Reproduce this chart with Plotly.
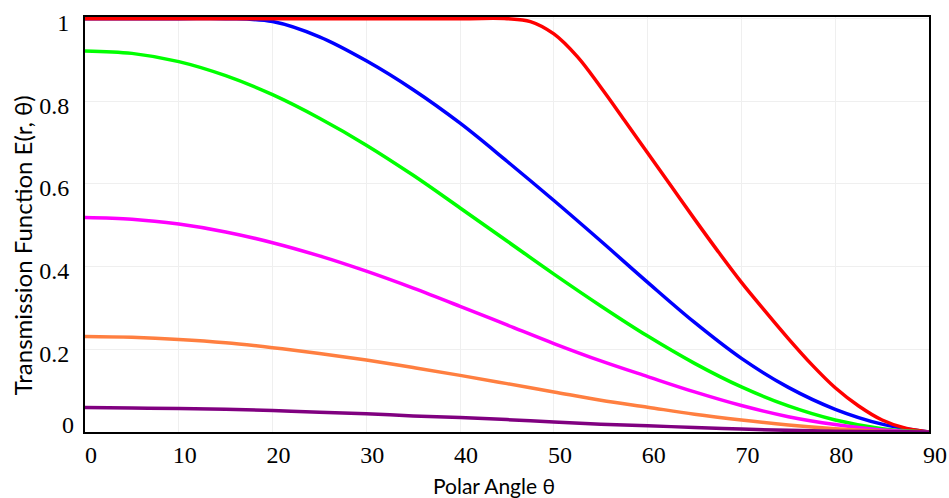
import plotly.graph_objects as go

# ---- data ----
theta = [0, 5, 10, 15, 20, 25, 30, 35, 40, 45, 50, 55, 60, 65, 70, 75, 80, 85, 90]

theta_red = [0, 40, 45, 47.5, 50, 52.5, 55, 57.5, 60, 62.5, 65, 67.5, 70, 72.5, 75, 77.5, 80, 82.5, 85, 87.5, 90]
red = [1.0, 1.0, 1.0, 0.993, 0.963, 0.908, 0.834, 0.755, 0.675, 0.595, 0.515, 0.437, 0.362, 0.293, 0.226, 0.163, 0.107, 0.063, 0.029, 0.009, 0.0]

theta_blue = [0, 10, 15, 20, 25, 30, 35, 40, 45, 50, 55, 60, 65, 70, 75, 80, 85, 90]
blue = [1.0, 1.0, 1.0, 0.993, 0.956, 0.898, 0.828, 0.747, 0.655, 0.56, 0.462, 0.362, 0.265, 0.178, 0.108, 0.055, 0.019, 0.0]

green = [0.922, 0.916, 0.896, 0.862, 0.816, 0.759, 0.694, 0.621, 0.542, 0.462, 0.382, 0.305, 0.232, 0.166, 0.109, 0.063, 0.029, 0.008, 0.0]
magenta = [0.519, 0.515, 0.503, 0.484, 0.458, 0.426, 0.389, 0.348, 0.304, 0.259, 0.214, 0.172, 0.134, 0.097, 0.064, 0.037, 0.018, 0.005, 0.0]
orange = [0.231, 0.229, 0.224, 0.216, 0.204, 0.190, 0.174, 0.156, 0.137, 0.117, 0.097, 0.077, 0.060, 0.043, 0.029, 0.017, 0.008, 0.002, 0.0]
purple = [0.059, 0.058, 0.057, 0.055, 0.052, 0.048, 0.044, 0.039, 0.035, 0.030, 0.024, 0.019, 0.015, 0.011, 0.007, 0.004, 0.002, 0.001, 0.0]

x_tick_vals = [0, 10, 20, 30, 40, 50, 60, 70, 80, 90]
x_tick_text = ["0", "10", "20", "30", "40", "50", "60", "70", "80", "90"]
y_tick_vals = [0, 0.2, 0.4, 0.6, 0.8, 1]
y_tick_text = ["0", "0.2", "0.4", "0.6", "0.8", "1"]

x_title = "Polar Angle θ"
y_title = "Transmission Function E(r, θ)"

series = [
    (theta_blue, blue, "#0000ff"),
    (theta_red, red, "#ff0000"),
    (theta, green, "#00ff00"),
    (theta, magenta, "#ff00ff"),
    (theta, orange, "#ff7f40"),
    (theta, purple, "#800080"),
]

fig = go.Figure()
for xs, ys, col in series:
    fig.add_trace(go.Scatter(x=xs, y=ys, mode="lines",
                             line=dict(color=col, width=3.5, shape="spline", smoothing=1.0),
                             showlegend=False, hoverinfo="skip"))

tick_font = dict(family="Liberation Serif, Times New Roman, serif", size=24, color="black")
title_font = dict(family="Lato, Liberation Sans, sans-serif", color="black")

fig.update_layout(
    template="none",
    width=949, height=498,
    margin=dict(l=85, r=20, t=17, b=66, autoexpand=False),
    paper_bgcolor="white", plot_bgcolor="white",
    showlegend=False,
)
fig.update_xaxes(
    range=[0, 90], tickvals=x_tick_vals, ticktext=x_tick_text,
    tickfont=tick_font, showgrid=True, gridcolor="#efefef", gridwidth=1,
    showline=True, linecolor="black", linewidth=2, mirror=True,
    zeroline=False, ticks="", ticklabelshift=6, ticklabelstandoff=0,
    ticklabeloverflow="allow", automargin=False,
)
fig.update_yaxes(
    range=[0, 1.004], tickvals=y_tick_vals[1:], ticktext=y_tick_text[1:],
    tickfont=tick_font, showgrid=True, gridcolor="#efefef", gridwidth=1,
    showline=True, linecolor="black", linewidth=2, mirror=True,
    zeroline=False, ticks="", ticklabelshift=4, ticklabelstandoff=9,
    ticklabeloverflow="allow", automargin=False,
)

# "0" y tick label sits slightly above the axis in the reference
fig.add_annotation(x=0, xref="paper", y=y_tick_vals[0], yref="y", text=y_tick_text[0],
                   showarrow=False, xanchor="right", yanchor="middle",
                   xshift=-9, yshift=7, font=tick_font)

# axis titles
fig.add_annotation(x=0.485, xref="paper", y=0, yref="paper", text=x_title,
                   showarrow=False, xanchor="center", yanchor="middle",
                   yshift=-53, font=dict(size=21, **title_font))
fig.add_annotation(x=0, xref="paper", y=0.45, yref="paper", text=y_title,
                   showarrow=False, textangle=-90, xanchor="center", yanchor="middle",
                   xshift=-63, font=dict(size=24, **title_font))

fig.write_html("out.html", config={"displayModeBar": False},
               post_script="document.body.style.margin='0';document.body.style.overflow='hidden';")
